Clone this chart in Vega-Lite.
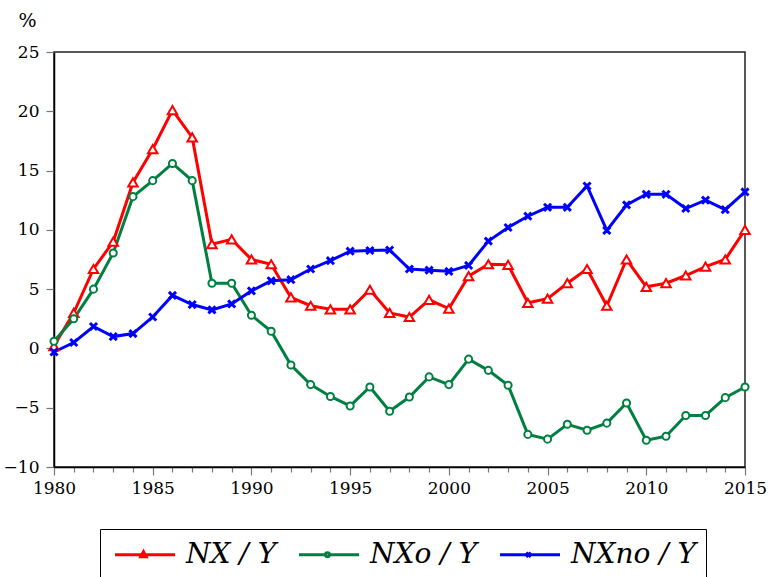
{
  "$schema": "https://vega.github.io/schema/vega-lite/v6.json",
  "width": 691,
  "height": 415,
  "autosize": {"type": "none"},
  "padding": {"left": 54, "top": 52, "right": 24, "bottom": 110},
  "background": "white",
  "config": {
    "font": "DejaVu Serif",
    "view": {"stroke": "#222", "strokeWidth": 1.5},
    "axis": {
      "labelFont": "DejaVu Serif",
      "titleFont": "DejaVu Serif",
      "labelFontSize": 17,
      "labelColor": "black",
      "titleColor": "black",
      "domainColor": "black",
      "domainWidth": 1.5,
      "tickColor": "#777",
      "tickWidth": 1.2,
      "grid": false
    }
  },
  "data": {
    "values": [
      {"year": 1980, "NX / Y": 0.2, "NXo / Y": 0.6, "NXno / Y": -0.3},
      {"year": 1981, "NX / Y": 3.0, "NXo / Y": 2.5, "NXno / Y": 0.5},
      {"year": 1982, "NX / Y": 6.7, "NXo / Y": 5.0, "NXno / Y": 1.85},
      {"year": 1983, "NX / Y": 9.0, "NXo / Y": 8.05, "NXno / Y": 1.0},
      {"year": 1984, "NX / Y": 14.0, "NXo / Y": 12.8, "NXno / Y": 1.25},
      {"year": 1985, "NX / Y": 16.8, "NXo / Y": 14.15, "NXno / Y": 2.65},
      {"year": 1986, "NX / Y": 20.1, "NXo / Y": 15.6, "NXno / Y": 4.47},
      {"year": 1987, "NX / Y": 17.8, "NXo / Y": 14.15, "NXno / Y": 3.7},
      {"year": 1988, "NX / Y": 8.8, "NXo / Y": 5.5, "NXno / Y": 3.25},
      {"year": 1989, "NX / Y": 9.2, "NXo / Y": 5.5, "NXno / Y": 3.75},
      {"year": 1990, "NX / Y": 7.5, "NXo / Y": 2.8, "NXno / Y": 4.85},
      {"year": 1991, "NX / Y": 7.1, "NXo / Y": 1.45, "NXno / Y": 5.7},
      {"year": 1992, "NX / Y": 4.3, "NXo / Y": -1.4, "NXno / Y": 5.8},
      {"year": 1993, "NX / Y": 3.6, "NXo / Y": -3.05, "NXno / Y": 6.7},
      {"year": 1994, "NX / Y": 3.3, "NXo / Y": -4.05, "NXno / Y": 7.4},
      {"year": 1995, "NX / Y": 3.3, "NXo / Y": -4.85, "NXno / Y": 8.2},
      {"year": 1996, "NX / Y": 4.95, "NXo / Y": -3.25, "NXno / Y": 8.26},
      {"year": 1997, "NX / Y": 3.0, "NXo / Y": -5.3, "NXno / Y": 8.3},
      {"year": 1998, "NX / Y": 2.65, "NXo / Y": -4.1, "NXno / Y": 6.7},
      {"year": 1999, "NX / Y": 4.1, "NXo / Y": -2.4, "NXno / Y": 6.6},
      {"year": 2000, "NX / Y": 3.35, "NXo / Y": -3.05, "NXno / Y": 6.5},
      {"year": 2001, "NX / Y": 6.1, "NXo / Y": -0.9, "NXno / Y": 7.0},
      {"year": 2002, "NX / Y": 7.1, "NXo / Y": -1.85, "NXno / Y": 9.05},
      {"year": 2003, "NX / Y": 7.05, "NXo / Y": -3.1, "NXno / Y": 10.2},
      {"year": 2004, "NX / Y": 3.85, "NXo / Y": -7.25, "NXno / Y": 11.15},
      {"year": 2005, "NX / Y": 4.2, "NXo / Y": -7.65, "NXno / Y": 11.9},
      {"year": 2006, "NX / Y": 5.5, "NXo / Y": -6.4, "NXno / Y": 11.9},
      {"year": 2007, "NX / Y": 6.7, "NXo / Y": -6.9, "NXno / Y": 13.7},
      {"year": 2008, "NX / Y": 3.6, "NXo / Y": -6.3, "NXno / Y": 9.95},
      {"year": 2009, "NX / Y": 7.5, "NXo / Y": -4.6, "NXno / Y": 12.1},
      {"year": 2010, "NX / Y": 5.2, "NXo / Y": -7.75, "NXno / Y": 13.0},
      {"year": 2011, "NX / Y": 5.5, "NXo / Y": -7.4, "NXno / Y": 13.0},
      {"year": 2012, "NX / Y": 6.15, "NXo / Y": -5.65, "NXno / Y": 11.8},
      {"year": 2013, "NX / Y": 6.9, "NXo / Y": -5.65, "NXno / Y": 12.5},
      {"year": 2014, "NX / Y": 7.5, "NXo / Y": -4.15, "NXno / Y": 11.7},
      {"year": 2015, "NX / Y": 10.0, "NXo / Y": -3.25, "NXno / Y": 13.2}
    ]
  },
  "transform": [
    {"fold": ["NX / Y", "NXo / Y", "NXno / Y"], "as": ["series", "value"]}
  ],
  "encoding": {
    "x": {
      "field": "year",
      "type": "quantitative",
      "scale": {"domain": [1980, 2015], "nice": false, "zero": false},
      "axis": {
        "title": null,
        "values": [1980,1981,1982,1983,1984,1985,1986,1987,1988,1989,1990,1991,1992,1993,1994,1995,1996,1997,1998,1999,2000,2001,2002,2003,2004,2005,2006,2007,2008,2009,2010,2011,2012,2013,2014,2015],
        "labelExpr": "datum.value % 5 === 0 ? '' + datum.value : ''",
        "labelOverlap": false,
        "labelFlush": false,
        "labelPadding": 5,
        "tickSize": {"condition": {"test": "datum.value % 5 === 0", "value": 8}, "value": 5}
      }
    },
    "y": {
      "field": "value",
      "type": "quantitative",
      "scale": {"domain": [-10, 25], "nice": false, "zero": false},
      "axis": {
        "values": [-10, -5, 0, 5, 10, 15, 20, 25],
        "title": "%",
        "titleAngle": 0,
        "titleX": -27,
        "titleY": -26,
        "titleAlign": "center",
        "titleBaseline": "alphabetic",
        "titleFontSize": 19,
        "titleFontWeight": "normal",
        "tickSize": 8,
        "labelPadding": 7
      }
    }
  },
  "layer": [
    {
      "mark": {"type": "line", "strokeWidth": 3},
      "encoding": {
        "color": {
          "field": "series",
          "type": "nominal",
          "scale": {"domain": ["NX / Y", "NXo / Y", "NXno / Y"], "range": ["#ff0000", "#008040", "#0000ff"]},
          "legend": {
            "title": null,
            "orient": "none",
            "legendX": 46,
            "legendY": 477,
            "direction": "horizontal",
            "strokeColor": "black",
            "padding": 9,
            "fillColor": "white",
            "labelFont": "DejaVu Serif",
            "labelFontStyle": "italic",
            "labelFontSize": 28,
            "labelColor": "black",
            "labelLimit": 400,
            "labelOffset": 44,
            "columnPadding": 16,
            "symbolSize": 900,
            "symbolStrokeWidth": 3,
            "encode": {
              "symbols": {
                "update": {
                  "shape": {"signal": "datum.value === 'NX / Y' ? 'M-0.7,0H1.05M1.35,0H3.3M1.2,-0.2L1.38,0.13L1.02,0.13Z' : datum.value === 'NXo / Y' ? 'M-0.7,0H1.07M1.33,0H3.3M1.33,0A0.13,0.13 0 1 1 1.07,0A0.13,0.13 0 1 1 1.33,0Z' : 'M-0.7,0H3.3M1.05,-0.15L1.35,0.15M1.35,-0.15L1.05,0.15'"},
                  "fill": {"value": "white"},
                  "strokeWidth": {"value": 3}
                }
              }
            }
          }
        }
      }
    },
    {
      "transform": [{"filter": "datum.series === 'NX / Y'"}],
      "mark": {"type": "point", "shape": "triangle-up", "filled": true, "fill": "white", "stroke": "#ff0000", "strokeWidth": 2, "size": 90, "opacity": 1}
    },
    {
      "transform": [{"filter": "datum.series === 'NXo / Y'"}],
      "mark": {"type": "point", "shape": "circle", "filled": true, "fill": "white", "stroke": "#008040", "strokeWidth": 2, "size": 50, "opacity": 1}
    },
    {
      "transform": [{"filter": "datum.series === 'NXno / Y'"}],
      "mark": {"type": "point", "shape": "M-1,-1L1,1M1,-1L-1,1", "filled": false, "stroke": "#0000ff", "strokeWidth": 3, "size": 50, "opacity": 1}
    }
  ]
}
